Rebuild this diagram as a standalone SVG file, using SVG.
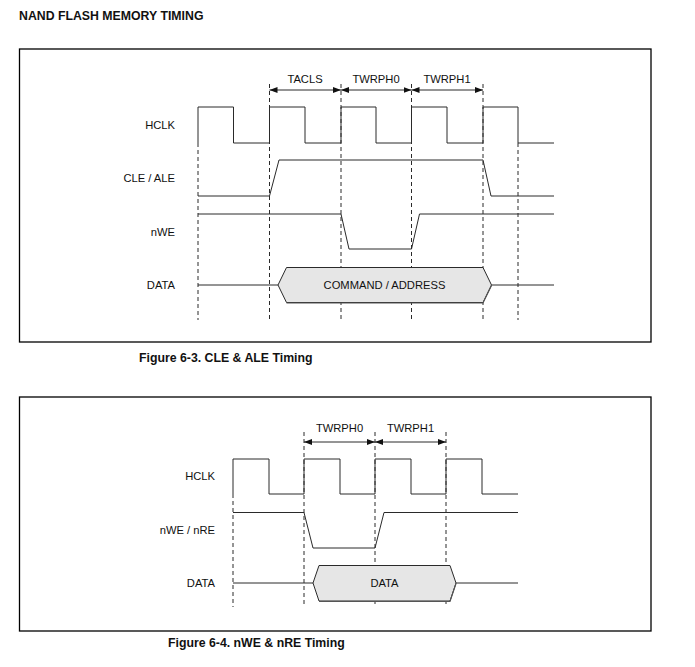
<svg xmlns="http://www.w3.org/2000/svg" width="695" height="667" viewBox="0 0 695 667">
<style>
text{font-family:"Liberation Sans",Arial,sans-serif;fill:#111}
.t{font-size:12.3px;font-weight:bold}
.l{font-size:11.2px}
.end{text-anchor:end}
.mid{text-anchor:middle}
.w{fill:none;stroke:#2a2a2a;stroke-width:1}
.d{fill:none;stroke:#2a2a2a;stroke-width:1;stroke-dasharray:4 3}
.box{fill:none;stroke:#000;stroke-width:1.3}
.hex{fill:#e6e6e6;stroke:#2a2a2a;stroke-width:1}
.sh{fill:none;stroke:#555;stroke-width:1.2}
.a{stroke:#2a2a2a;stroke-width:1;marker-start:url(#ah);marker-end:url(#ah)}
</style>
<defs>
<marker id="ah" markerUnits="userSpaceOnUse" markerWidth="9" markerHeight="7" refX="8" refY="3" orient="auto-start-reverse">
<path d="M0,0 L8,3 L0,6 Z" fill="#111"/>
</marker>
</defs>
<rect width="695" height="667" fill="#fff"/>
<text class="t" x="19" y="20">NAND FLASH MEMORY TIMING</text>

<g id="fig1">
<rect class="box" x="19.5" y="49" width="631.5" height="293"/>
<g id="fig1-connectors">
<path class="d" d="M198,143 V320 M269.5,84 V320 M341,84 V320 M411.5,84 V320 M483,84 V320 M518,143 V320"/>
<line class="a" x1="269.5" y1="90" x2="341" y2="90"/>
<line class="a" x1="341" y1="90" x2="411.5" y2="90"/>
<line class="a" x1="411.5" y1="90" x2="483" y2="90"/>
<text class="l mid" x="305" y="83">TACLS</text>
<text class="l mid" x="376" y="83">TWRPH0</text>
<text class="l mid" x="447" y="83">TWRPH1</text>
</g>
<g id="fig1-labels">
<text class="l end" x="175" y="129">HCLK</text>
<text class="l end" x="175" y="182">CLE / ALE</text>
<text class="l end" x="175" y="236">nWE</text>
<text class="l end" x="175" y="289">DATA</text>
</g>
<g id="fig1-hclk"><path class="w" d="M198,143 V107 H233.5 V143 H269.5 V107 H305 V143 H341 V107 H376 V143 H411.5 V107 H447 V143 H483 V107 H518 V143 H554"/></g>
<g id="fig1-cle"><path class="w" d="M198,196 H269.5 L279,160 H483 L491,196 H554"/></g>
<g id="fig1-nwe"><path class="w" d="M198,214 H341 L349,249 H411.5 L419.5,214 H554"/></g>
<g id="fig1-data">
<path class="w" d="M198,285 H278 M491.5,285 H554"/>
<polygon class="hex" points="278,285 286.5,267.5 483,267.5 491.5,285 483,302.5 286.5,302.5"/>
<polyline class="sh" points="286.5,303 483,303 491.5,285.5"/>
<text class="l mid" x="384.5" y="289">COMMAND / ADDRESS</text>
</g>
<text class="t" x="139" y="362">Figure 6-3. CLE &amp; ALE Timing</text>
</g>

<g id="fig2">
<rect class="box" x="19.5" y="397" width="631.5" height="234"/>
<g id="fig2-connectors">
<path class="d" d="M233,494 V607 M304,432 V607 M375,432 V607 M446,432 V607"/>
<line class="a" x1="304" y1="442" x2="375" y2="442"/>
<line class="a" x1="375" y1="442" x2="446" y2="442"/>
<text class="l mid" x="339.5" y="432">TWRPH0</text>
<text class="l mid" x="410.5" y="432">TWRPH1</text>
</g>
<g id="fig2-labels">
<text class="l end" x="215" y="480">HCLK</text>
<text class="l end" x="215" y="534">nWE / nRE</text>
<text class="l end" x="215" y="587">DATA</text>
</g>
<g id="fig2-hclk"><path class="w" d="M233,494 V459 H269 V494 H304 V459 H340 V494 H375 V459 H411 V494 H446 V459 H482 V494 H518"/></g>
<g id="fig2-nwe"><path class="w" d="M233,512.5 H304 L313,548 H375 L384,512.5 H518"/></g>
<g id="fig2-data">
<path class="w" d="M233,583 H313 M456,583 H518"/>
<polygon class="hex" points="313,583 319,565.5 450,565.5 456,583 450,601 319,601"/>
<polyline class="sh" points="319,601.5 450,601.5 456,583.5"/>
<text class="l mid" x="384.5" y="587">DATA</text>
</g>
<text class="t" x="168" y="646.5">Figure 6-4. nWE &amp; nRE Timing</text>
</g>
</svg>
